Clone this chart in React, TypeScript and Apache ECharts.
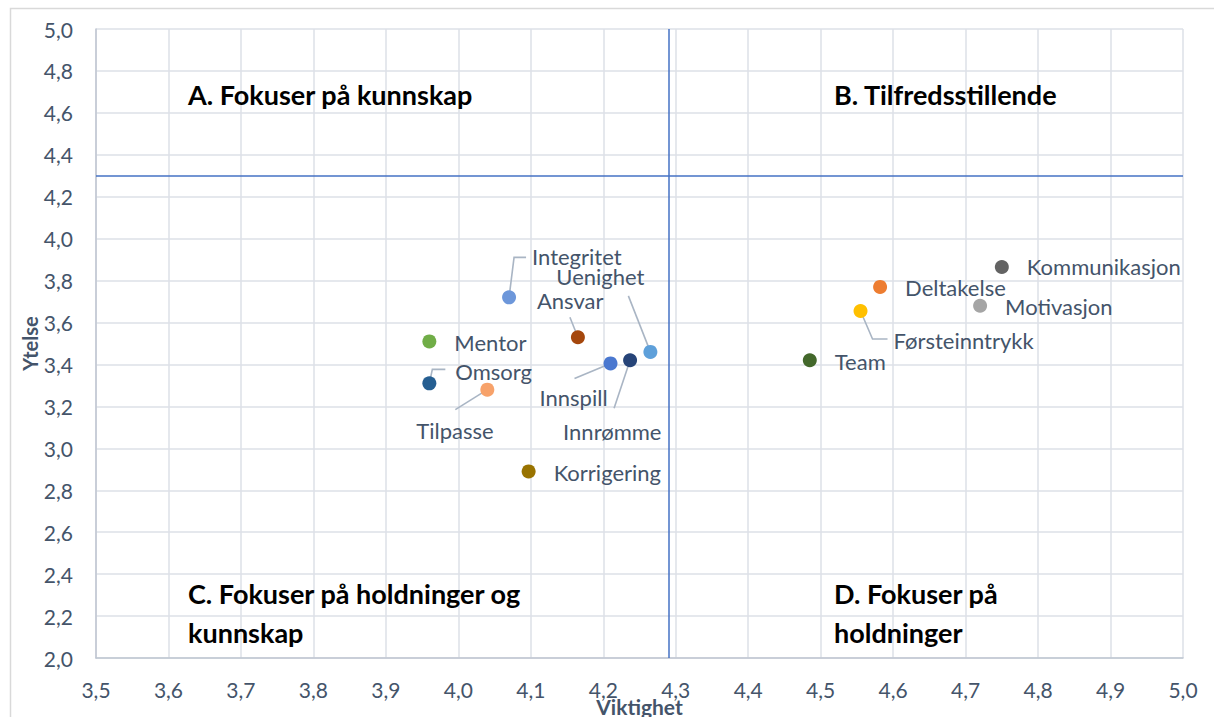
import React, { useEffect, useRef } from "react";
import * as echarts from "echarts";

const names = [
  "Integritet", "Ansvar", "Uenighet", "Mentor", "Omsorg", "Tilpasse", "Innspill",
  "Innrømme", "Korrigering", "Team", "Deltakelse", "Førsteinntrykk", "Motivasjon", "Kommunikasjon",
];
const viktighet = [4.07, 4.165, 4.265, 3.96, 3.96, 4.04, 4.21, 4.237, 4.097, 4.485, 4.582, 4.555, 4.72, 4.75];
const ytelse = [3.72, 3.53, 3.46, 3.51, 3.31, 3.28, 3.405, 3.42, 2.89, 3.42, 3.77, 3.655, 3.68, 3.865];
const xTicks = ["3,5", "3,6", "3,7", "3,8", "3,9", "4,0", "4,1", "4,2", "4,3", "4,4", "4,5", "4,6", "4,7", "4,8", "4,9", "5,0"];
const yTicks = ["2,0", "2,2", "2,4", "2,6", "2,8", "3,0", "3,2", "3,4", "3,6", "3,8", "4,0", "4,2", "4,4", "4,6", "4,8", "5,0"];
const thresholdX = 4.29;
const thresholdY = 4.3;
const quadrantLabels = [
  "A. Fokuser på kunnskap",
  "B. Tilfredsstillende",
  "C. Fokuser på holdninger og\nkunnskap",
  "D. Fokuser på\nholdninger",
];

// styles
const pointColors = [
  "#6D97DA", "#A5470D", "#5EA0DA", "#70AD47", "#255E91", "#F7A26A", "#4A78D0",
  "#264478", "#997300", "#43682B", "#ED7D31", "#FFC000", "#A5A5A5", "#636363",
];
// label offsets in px [dx, dy] from default right-side placement
const labelOffsets: [number, number][] = [
  [11, -41], [-53, -37], [-106, -75], [13, 1], [14, -12],
  [-83, 41], [-83, 34], [-79, 71], [13, 1], [13, 1],
  [13, 1], [21, 29], [13, 1], [13, 0],
];
// leader polylines, px offsets from the marker centre (null = none)
const leaders: ([number, number][] | null)[] = [
  [[0, 0], [5, -40], [17, -40]],
  [[-8, -20], [0, 0]],
  [[-22, -56], [0, 0]],
  null,
  [[0, 0], [3, -14], [16, -14]],
  [[0, 0], [-32, 20]],
  [[0, 0], [-36, 15]],
  [[0, 0], [-16, 48]],
  null,
  null,
  null,
  [[0, 0], [12, 28], [27, 28]],
  null,
  null,
];

const FONT = "Lato, 'Open Sans', sans-serif";
const TXT = "#44546A";

export default function App() {
  const ref = useRef<HTMLDivElement>(null);
  useEffect(() => {
    if (!ref.current) return;
    const chart = echarts.init(ref.current, null, { renderer: "svg" });
    const fmtX = (v: number) => {
      const i = Math.round((v - 3.5) / 0.1);
      return xTicks[i] ?? "";
    };
    const fmtY = (v: number) => {
      const i = Math.round((v - 2) / 0.2);
      return yTicks[i] ?? "";
    };
    const data = names.map((n, i) => ({
      name: n,
      value: [viktighet[i], ytelse[i]],
      itemStyle: { color: pointColors[i], opacity: 1 },
    }));
    const qStyle = { fontFamily: FONT, fontSize: 27, fontWeight: "bold" as const, fill: "#000", lineHeight: 39 };
    chart.setOption({
      animation: false,
      backgroundColor: "#fff",
      grid: { left: 96, top: 29, right: 31, bottom: 59, containLabel: false, outerBoundsMode: "none" },
      xAxis: {
        type: "value",
        min: 3.5,
        max: 5.0,
        interval: 0.1,
        name: "Viktighet",
        nameLocation: "middle",
        nameGap: 38,
        nameMoveOverlap: false,
        nameTextStyle: { fontFamily: FONT, fontSize: 21, fontWeight: "bold", color: TXT },
        axisLine: { show: true, lineStyle: { color: "#BFC6D1", width: 1.5 } },
        axisTick: { show: false },
        axisLabel: { formatter: fmtX, fontFamily: FONT, fontSize: 21, color: TXT, margin: 21 },
        splitLine: { show: true, lineStyle: { color: "#DDE1E7", width: 1.5 } },
      },
      yAxis: {
        type: "value",
        min: 2.0,
        max: 5.0,
        interval: 0.2,
        name: "Ytelse",
        nameLocation: "middle",
        nameGap: 56,
        nameMoveOverlap: false,
        nameTextStyle: { fontFamily: FONT, fontSize: 20, fontWeight: "bold", color: TXT },
        axisLine: { show: true, lineStyle: { color: "#BFC6D1", width: 1.5 } },
        axisTick: { show: false },
        axisLabel: { formatter: fmtY, fontFamily: FONT, fontSize: 21, color: TXT, margin: 23 },
        splitLine: { show: true, lineStyle: { color: "#DDE1E7", width: 1.5 } },
      },
      graphic: [
        {
          type: "rect",
          shape: { x: 10.5, y: 8.5, width: 1220, height: 720 },
          style: { fill: "none", stroke: "#D9D9D9", lineWidth: 1.5 },
          silent: true,
          z: -10,
        },
        { type: "text", left: 188, top: 75, z: 50, style: { ...qStyle, text: quadrantLabels[0] } },
        { type: "text", left: 834, top: 75, z: 50, style: { ...qStyle, text: quadrantLabels[1] } },
        { type: "text", left: 188, top: 574, z: 50, style: { ...qStyle, text: quadrantLabels[2] } },
        { type: "text", left: 834, top: 574, z: 50, style: { ...qStyle, text: quadrantLabels[3] } },
      ],
      series: [
        {
          type: "custom",
          coordinateSystem: "cartesian2d",
          data: names.map((_, i) => [viktighet[i], ytelse[i], i]),
          encode: { x: 0, y: 1 },
          silent: true,
          z: 3,
          renderItem: (params: any, api: any) => {
            const idx = params.dataIndex;
            const leader = leaders[idx];
            if (!leader) return null;
            const c = api.coord([api.value(0), api.value(1)]);
            return {
              type: "polyline",
              shape: { points: leader.map((o) => [c[0] + o[0], c[1] + o[1]]) },
              style: { stroke: "#A9B5C4", lineWidth: 1.6, fill: "none" },
            };
          },
        },
        {
          type: "scatter",
          symbol: "circle",
          symbolSize: 14,
          data,
          label: {
            show: true,
            position: "right",
            distance: 5,
            formatter: (p: any) => p.name,
            fontFamily: FONT,
            fontSize: 22,
            color: TXT,
          },
          labelLayout: (p: any) => {
            const o = labelOffsets[p.dataIndex];
            return { dx: o[0], dy: o[1] };
          },
          markLine: {
            silent: true,
            symbol: "none",
            label: { show: false },
            lineStyle: { color: "#4472C4", width: 1.5, type: "solid" },
            data: [{ xAxis: thresholdX }, { yAxis: thresholdY }],
          },
          z: 5,
        },
      ],
    });
    return () => chart.dispose();
  }, []);
  return (
    <div
      ref={ref}
      style={{ position: "absolute", left: 0, top: 0, width: 1214, height: 717 }}
    />
  );
}
